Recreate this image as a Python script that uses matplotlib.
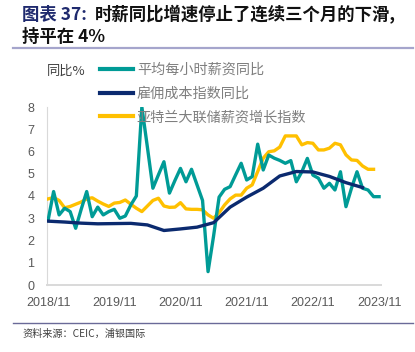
import matplotlib
matplotlib.use("Agg")
import matplotlib.pyplot as plt
from matplotlib.lines import Line2D

plt.rcParams['font.family'] = ['Noto Sans CJK SC', 'DejaVu Sans']

# ---- data ----
tick_labels = ["2018/11", "2019/11", "2020/11", "2021/11", "2022/11", "2023/11"]
tick_months = [0, 12, 24, 36, 48, 60]   # months since 2018/11

ahe_months = list(range(0, 61))
ahe_yoy = [2.9, 4.2, 3.15, 3.45, 3.3, 2.55, 3.4, 4.2, 3.07, 3.5,
           3.15, 3.3, 3.4, 3.0, 3.1, 3.6, 4.0, 8.0, 6.2, 4.35,
           4.95, 5.54, 4.13, 4.7, 5.24, 4.64, 5.2, 4.5, 3.8, 0.6,
           2.2, 3.95, 4.3, 4.42, 4.95, 5.47, 4.72, 4.87, 6.33, 5.17,
           5.84, 5.7, 5.6, 5.47, 5.59, 4.64, 5.09, 5.69, 4.94, 4.8,
           4.35, 4.57, 4.27, 5.09, 3.52, 4.35, 5.09, 4.35, 4.27, 3.97,
           3.97]

eci_months = list(range(0, 58, 3))
eci_yoy = [2.87, 2.83, 2.78, 2.75, 2.76, 2.77, 2.7, 2.45, 2.52, 2.6,
           2.8, 3.5, 3.95, 4.35, 4.9, 5.1, 5.08, 4.88, 4.6, 4.38]

atl_months = list(range(0, 60))
atl_wage = [3.87, 3.93, 3.8, 3.47, 3.53, 3.63, 3.73, 3.87, 3.92, 3.77,
            3.64, 3.53, 3.68, 3.71, 3.82, 3.63, 3.45, 3.3, 3.55, 3.8,
            3.9, 3.55, 3.49, 3.5, 3.7, 3.42, 3.4, 3.4, 3.38, 3.15,
            3.0, 3.25, 3.6, 3.87, 4.04, 4.04, 4.35, 4.5, 5.1, 5.7,
            5.99, 6.03, 6.2, 6.7, 6.7, 6.7, 6.3, 6.4, 6.37, 6.07,
            6.07, 6.15, 6.37, 6.3, 5.85, 5.62, 5.6, 5.35, 5.2, 5.2]

series_names = ["平均每小时薪资同比", "雇佣成本指数同比", "亚特兰大联储薪资增长指数"]

# ---- figure ----
W, H = 415, 352
fig = plt.figure(figsize=(W / 100, H / 100), dpi=100)
ax = fig.add_axes([46.7 / W, 1 - 285 / H, (381 - 46.7) / W, (285 - 107) / H])

teal = "#009B96"
navy = "#0B2A6F"
gold = "#FFC000"
lw = 2.4

l1, = ax.plot(ahe_months, ahe_yoy, color=teal, lw=lw, solid_joinstyle="round")
l2, = ax.plot(eci_months, eci_yoy, color=navy, lw=lw, solid_joinstyle="round")
l3, = ax.plot(atl_months, atl_wage, color=gold, lw=lw, solid_joinstyle="round")
l1.set_zorder(4); l2.set_zorder(5); l3.set_zorder(3)

ax.set_xlim(-0.25, 60.35)
ax.set_ylim(0, 8)
ax.set_yticks(range(0, 9))
ax.set_xticks(tick_months)
ax.set_xticklabels(tick_labels)
for lab in ax.get_xticklabels() + ax.get_yticklabels():
    lab.set_family(['Liberation Sans', 'DejaVu Sans'])
    lab.set_fontsize(9)
    lab.set_color("#595959")
ax.tick_params(axis="y", length=0, pad=9)
ax.tick_params(axis="x", length=0, pad=9)
for s in ["top", "right"]:
    ax.spines[s].set_visible(False)
ax.spines["left"].set_color("#D9D9D9")
ax.spines["left"].set_linewidth(0.8)
ax.spines["bottom"].set_color("#D9D9D9")
ax.spines["bottom"].set_linewidth(1.4)
ax.patch.set_alpha(0)

leg = fig.legend([l1, l2, l3], series_names, loc="upper left",
                 bbox_to_anchor=(100 / W, 1 - 63 / H), frameon=False,
                 borderpad=0, borderaxespad=0, handlelength=2.3,
                 handletextpad=0.3, labelspacing=0.68,
                 prop={'family': ['Noto Sans CJK SC', 'DejaVu Sans'], 'size': 10.2})
for t in leg.get_texts():
    t.set_color("#7F7F7F")
for h in leg.legend_handles:
    h.set_linewidth(3)

fig.text(46.7 / W, 1 - 71 / H, "同比%", fontsize=9.5, color="#404040", va="center", ha="left")

# title
fig.text(22 / W, 1 - 15 / H, "图表 37:", fontsize=12.5, fontweight="bold", color="#1F2A6E",
         va="center", ha="left")
fig.text(95 / W, 1 - 15 / H, "时薪同比增速停止了连续三个月的下滑,", fontsize=12.5,
         fontweight="bold", color="#111111", va="center", ha="left")
fig.text(22 / W, 1 - 37 / H, "持平在 4%", fontsize=12.5, fontweight="bold", color="#111111",
         va="center", ha="left")

fig.add_artist(Line2D([13 / W, 413 / W], [1 - 48 / H, 1 - 48 / H], color="#A5A5CC", lw=1.6))
fig.add_artist(Line2D([13 / W, 413 / W], [1 - 323 / H, 1 - 323 / H], color="#6A6A98", lw=1.0))

fig.text(22 / W, 1 - 334 / H, "资料来源：CEIC，浦银国际", fontsize=7.3, color="#404040",
         va="center", ha="left")

fig.savefig("out.png", dpi=100)
